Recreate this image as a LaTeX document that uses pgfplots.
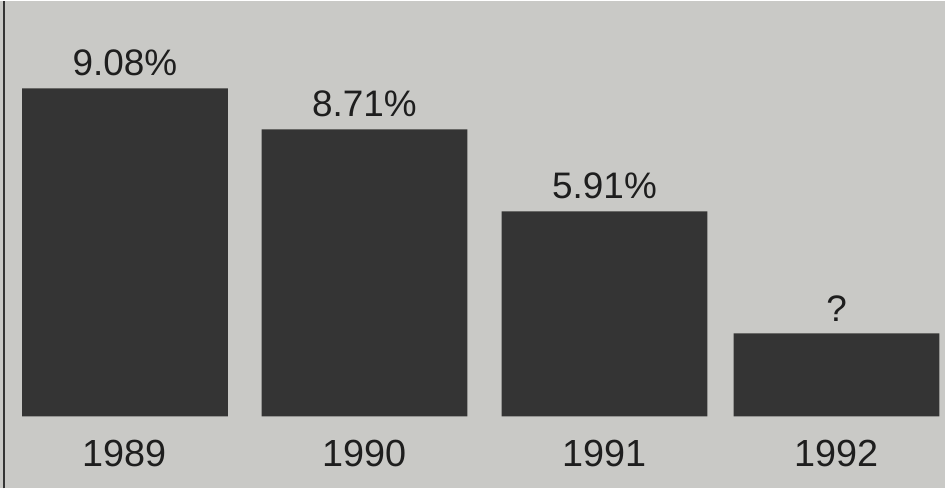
\documentclass[border=0pt]{standalone}
\usepackage{pgfplots}
\pgfplotsset{compat=1.18}
\usepackage{fontspec}
\setmainfont{Liberation Sans}
\definecolor{paper}{RGB}{201,201,198}
\definecolor{ink}{RGB}{52,52,52}
\definecolor{txt}{RGB}{30,30,30}

\begin{document}
\begin{tikzpicture}
  \begin{axis}[
      x=0.02cm, y=0.02cm,
      xmin=0, xmax=945,
      ymin=-72, ymax=415,
      axis line style={draw=none},
      axis background/.style={fill=paper},
      ybar,
      bar width=4.12cm,
      bar shift=0pt,
      ymajorticks=false,
      xtick={125,364.5,604.5,836.5},
      xticklabels={1989,1990,1991,1992},
      major tick length=0pt,
      xticklabel style={font=\fontsize{21.5}{23}\selectfont, text=txt, yshift=1.08cm},
      nodes near coords,
      point meta=explicit symbolic,
      every node near coord/.append style={font=\fontsize{21}{23}\selectfont, text=txt, anchor=south, yshift=0.12cm},
      clip=false,
    ]
    \addplot[fill=ink, draw=none] coordinates {
      (125,328) [9.08\%]
      (364.5,287) [8.71\%]
      (604.5,205) [5.91\%]
      (836.5,83) [?]
    };
    \draw[ink, line width=0.05cm] (axis cs:4,-72) -- (axis cs:4,415);
  \end{axis}
\end{tikzpicture}
\end{document}
